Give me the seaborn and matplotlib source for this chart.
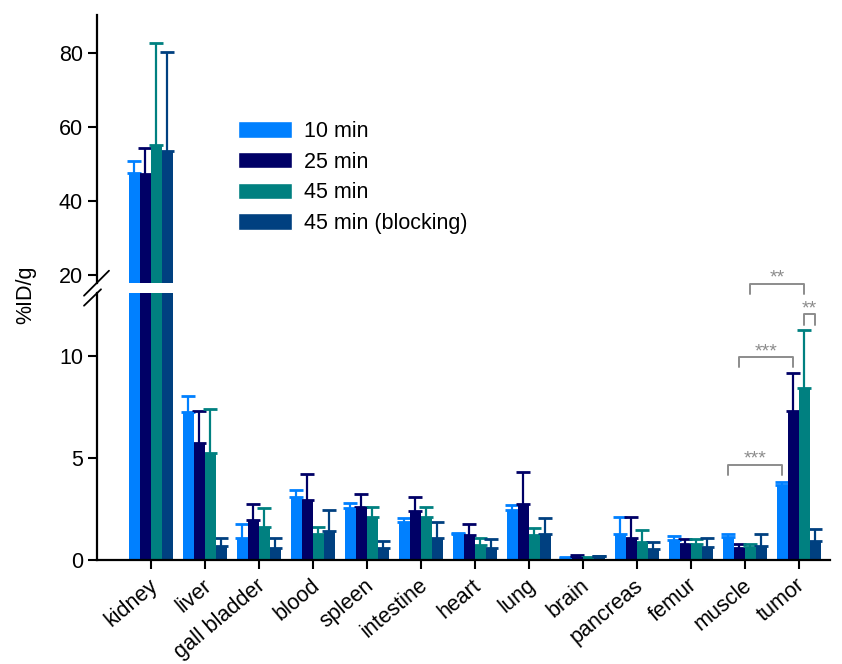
import numpy as np
import pandas as pd
import matplotlib
matplotlib.use('Agg')
import matplotlib.pyplot as plt
import matplotlib.transforms as mtransforms
import seaborn as sns
from matplotlib.patches import Patch
from matplotlib.lines import Line2D

organs = ['kidney', 'liver', 'gall bladder', 'blood', 'spleen', 'intestine', 'heart',
          'lung', 'brain', 'pancreas', 'femur', 'muscle', 'tumor']
groups = ['10 min', '25 min', '45 min', '45 min (blocking)']

mean_10 = [47.7, 7.24, 1.08, 3.07, 2.53, 1.86, 1.27, 2.45, 0.11, 1.27, 0.96, 1.13, 3.66]
err_10 = [3.3, 0.80, 0.70, 0.34, 0.26, 0.20, 0.03, 0.25, 0.03, 0.85, 0.23, 0.14, 0.15]
mean_25 = [47.4, 5.75, 1.96, 2.94, 2.61, 2.42, 1.24, 2.76, 0.16, 1.06, 0.78, 0.58, 7.32]
err_25 = [6.9, 1.54, 0.79, 1.28, 0.63, 0.67, 0.51, 1.54, 0.09, 1.06, 0.27, 0.22, 1.83]
mean_45 = [55.1, 5.23, 1.60, 1.27, 2.12, 2.12, 0.72, 1.23, 0.11, 0.90, 0.78, 0.65, 8.41]
err_45 = [27.8, 2.19, 0.97, 0.35, 0.49, 0.48, 0.37, 0.32, 0.03, 0.57, 0.25, 0.15, 2.85]
mean_blk = [53.6, 0.70, 0.60, 1.44, 0.57, 1.08, 0.60, 1.27, 0.20, 0.52, 0.65, 0.70, 0.95]
err_blk = [26.7, 0.38, 0.48, 1.01, 0.34, 0.77, 0.45, 0.81, 0.02, 0.36, 0.43, 0.57, 0.55]

colors = ['#0080ff', '#000066', '#008080', '#004080']

# significance brackets: (organ, group) -> (organ, group), bracket height, label
sig_pairs = [
    ((11, 0), (12, 0), 4.66, '***'),
    ((11, 1), (12, 1), 9.94, '***'),
    ((11, 2), (12, 2), 13.55, '**'),
    ((12, 2), (12, 3), 12.04, '**'),
]

means = [mean_10, mean_25, mean_45, mean_blk]
errs = [err_10, err_25, err_45, err_blk]
df = pd.DataFrame({
    'organ': np.repeat([organs], 4, axis=0).ravel(),
    'group': np.repeat(groups, len(organs)),
    'value': np.concatenate(means),
    'err': np.concatenate(errs),
})

sns.set_style('ticks')
plt.rcParams['font.family'] = ['Liberation Sans', 'DejaVu Sans']
for key in ['text.color', 'axes.labelcolor', 'xtick.color', 'ytick.color',
            'axes.edgecolor']:
    plt.rcParams[key] = 'black'
fs = 15.5

W, H = 842, 664
fig = plt.figure(figsize=(W / 100, H / 100), dpi=100)
ax_lo = fig.add_axes([97 / W, 104 / H, 733 / W, 267 / H])
ax_hi = fig.add_axes([97 / W, 381 / H, 733 / W, 268 / H])

bar_pos = {}
for ax in (ax_lo, ax_hi):
    sns.barplot(data=df, x='organ', y='value', hue='group', order=organs,
                hue_order=groups, palette=colors, width=0.815, gap=0,
                errorbar=None, saturation=1, legend=False, ax=ax, zorder=2,
                linewidth=0, edgecolor='none')
    bar_conts = list(ax.containers)
    for gi, cont in enumerate(bar_conts):
        for oi, p in enumerate(cont.patches):
            x = p.get_x() + p.get_width() / 2
            bar_pos[(oi, gi)] = x
            ax.errorbar(x, p.get_height(), yerr=[[0], [errs[gi][oi]]],
                        color=colors[gi], elinewidth=1.6, capsize=5,
                        capthick=2, zorder=1)
    ax.set_xlim(-1.0, 12.58)
    ax.set_xlabel('')
    ax.set_ylabel('')
    ax.patch.set_visible(False)
    for s in ax.spines.values():
        s.set_linewidth(1.6)
    ax.tick_params(axis='both', direction='out', length=6.5, width=1.5,
                   labelsize=fs, color='black')

ax_lo.set_ylim(0, 13.09)
ax_lo.set_yticks([0, 5, 10])
sns.despine(ax=ax_lo)
ax_lo.set_xticks(range(len(organs)))
ax_lo.set_xticklabels(organs, rotation=40, ha='right', va='center',
                      rotation_mode='anchor')
ax_lo.tick_params(axis='x', pad=10)
shift = mtransforms.ScaledTranslation(4 / 100, 0, fig.dpi_scale_trans)
for lbl in ax_lo.get_xticklabels():
    lbl.set_transform(lbl.get_transform() + shift)

ax_hi.set_ylim(17.9, 90.4)
ax_hi.set_yticks([20, 40, 60, 80])
sns.despine(ax=ax_hi, bottom=True)
ax_hi.tick_params(axis='x', bottom=False, labelbottom=False)

# axis break marks
for (x0, y0, x1, y1) in [(84, 295.7, 109, 270.7), (84, 305.7, 101, 289.3)]:
    fig.add_artist(Line2D([x0 / W, x1 / W], [1 - y0 / H, 1 - y1 / H],
                          color='black', lw=1.3))

# significance brackets
for a, b, yb, lab in sig_pairs:
    x1, x2 = bar_pos[a], bar_pos[b]
    leg = 0.5
    ax_lo.plot([x1, x1, x2, x2], [yb - leg, yb, yb, yb - leg], color='#8c8c8c',
               lw=1.4, clip_on=False, zorder=5)
    ax_lo.text((x1 + x2) / 2, yb + 0.05, lab, ha='center', va='baseline',
               color='#8c8c8c', fontsize=14, clip_on=False)

handles = [Patch(facecolor=c, label=g) for c, g in zip(colors, groups)]
ax_hi.legend(handles=handles, loc='upper left', frameon=False, fontsize=fs,
             bbox_to_anchor=(238 / W, 1 - 121 / H), bbox_transform=fig.transFigure,
             borderpad=0, borderaxespad=0, handlelength=2.5, handleheight=0.8,
             handletextpad=0.55, labelspacing=0.45)

fig.text(26 / W, 1 - 295 / H, '%ID/g', rotation=90, ha='center', va='center',
         fontsize=fs)

fig.savefig('out.png', dpi=100)
